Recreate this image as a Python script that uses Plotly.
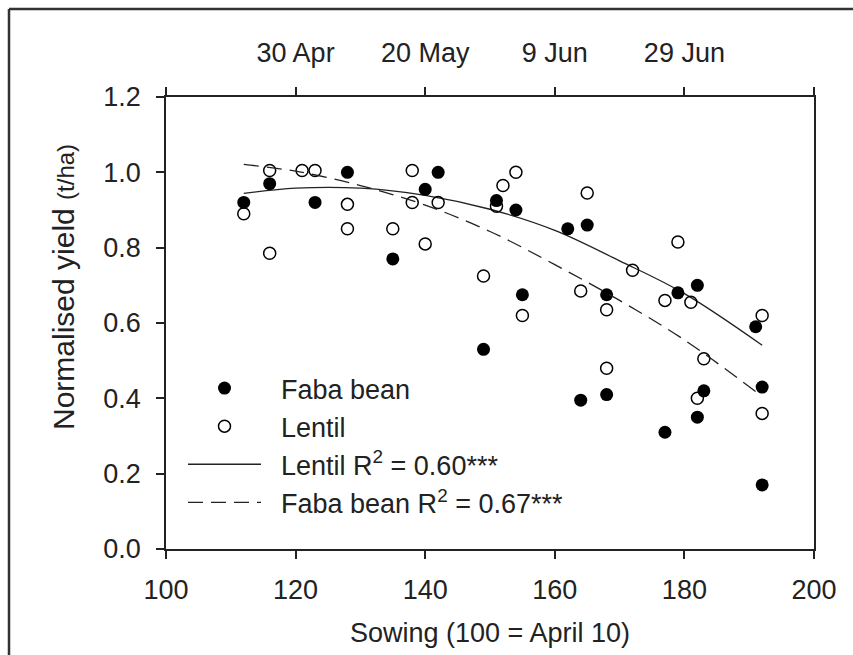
import plotly.graph_objects as go

# ---- data ----
faba_x = [112, 116, 123, 128, 135, 140, 142, 149, 151, 154, 155, 162, 164, 165,
          168, 168, 177, 179, 182, 182, 183, 191, 192, 192]
faba_y = [0.92, 0.97, 0.92, 1.00, 0.77, 0.955, 1.00, 0.53, 0.925, 0.90, 0.675, 0.85, 0.395, 0.86,
          0.675, 0.41, 0.31, 0.68, 0.70, 0.35, 0.42, 0.59, 0.43, 0.17]

lentil_x = [112, 116, 116, 121, 123, 128, 128, 135, 138, 138, 140, 142, 149, 151, 152,
            154, 155, 164, 165, 168, 168, 172, 177, 179, 181, 182, 183, 192, 192]
lentil_y = [0.89, 1.005, 0.785, 1.005, 1.005, 0.915, 0.85, 0.85, 1.005, 0.92, 0.81, 0.92, 0.725, 0.91, 0.965,
            1.00, 0.62, 0.685, 0.945, 0.635, 0.48, 0.74, 0.66, 0.815, 0.655, 0.40, 0.505, 0.62, 0.36]

# fitted curves
lentil_fit_x = [112, 120, 130, 140, 150, 160, 170, 180, 192]
lentil_fit_y = [0.944, 0.958, 0.958, 0.939, 0.902, 0.846, 0.765, 0.678, 0.541]
faba_fit_x = [112, 120, 130, 140, 150, 160, 170, 180, 191]
faba_fit_y = [1.021, 1.003, 0.965, 0.913, 0.843, 0.755, 0.660, 0.555, 0.418]

bottom_ticks = [100, 120, 140, 160, 180, 200]
top_ticks = [100, 120, 140, 160, 180, 200]
top_labels = ["", "30 Apr", "20 May", "9 Jun", "29 Jun", ""]
y_ticks = [0.0, 0.2, 0.4, 0.6, 0.8, 1.0, 1.2]

FONT = "Liberation Sans, Arial, sans-serif"
INK = "#222222"
PAD = "&nbsp;&nbsp;"

fig = go.Figure()

fig.add_trace(go.Scatter(
    x=lentil_fit_x, y=lentil_fit_y, mode="lines", line_shape="spline",
    line=dict(color=INK, width=1.3), name=PAD + "Lentil R<sup>2</sup> = 0.60***", legendrank=3))
# the faba-bean fit is drawn against the top (date) axis, which shares the same 100-200 scale
fig.add_trace(go.Scatter(
    x=faba_fit_x, y=faba_fit_y, mode="lines", line_shape="spline", xaxis="x2",
    line=dict(color=INK, width=1.3, dash="15px,8px"),
    name=PAD + "Faba bean R<sup>2</sup> = 0.67***", legendrank=4))
fig.add_trace(go.Scatter(
    x=faba_x, y=faba_y, mode="markers", name=PAD + "Faba bean", legendrank=1,
    marker=dict(symbol="circle", size=13, color="#000000", line=dict(width=0))))
fig.add_trace(go.Scatter(
    x=lentil_x, y=lentil_y, mode="markers", name=PAD + "Lentil", legendrank=2,
    marker=dict(symbol="circle-open", size=12, color="#000000", line=dict(width=1.5))))

# plot area: x 166..814 px, y 97..549 px
W, H = 853, 655
L, R, T, B = 166, 39, 97, 106
pw, ph = W - L - R, H - T - B

def px(xp):
    return (xp - L) / pw

def py(yp):
    return (H - B - yp) / ph

fig.update_layout(
    width=W, height=H,
    margin=dict(l=L, r=R, t=T, b=B, pad=0),
    paper_bgcolor="white", plot_bgcolor="white",
    font=dict(family=FONT, size=27, color=INK),
    showlegend=True,
    legend=dict(
        x=px(183), y=py(364), xanchor="left", yanchor="top",
        bgcolor="rgba(0,0,0,0)", borderwidth=0,
        font=dict(size=27, color=INK), itemwidth=73,
        tracegroupgap=0,
    ),
    xaxis=dict(
        range=[100, 200], tickmode="array", tickvals=bottom_ticks,
        ticks="outside", ticklen=8, tickwidth=1.5, tickcolor=INK,
        showline=True, linewidth=1.5, linecolor=INK, mirror=False,
        showgrid=False, zeroline=False, ticklabelstandoff=8,
        tickfont=dict(size=27),
    ),
    xaxis2=dict(
        range=[100, 200], overlaying="x", side="top", anchor="y",
        tickmode="array", tickvals=top_ticks, ticktext=top_labels,
        ticks="outside", ticklen=8, tickwidth=1.5, tickcolor=INK,
        showline=True, linewidth=1.5, linecolor=INK,
        showgrid=False, zeroline=False, ticklabelstandoff=14,
        tickfont=dict(size=27),
    ),
    yaxis=dict(
        range=[0, 1.2], tickmode="array", tickvals=y_ticks, tickformat=".1f",
        ticks="outside", ticklen=8, tickwidth=1.5, tickcolor=INK,
        showline=True, linewidth=1.5, linecolor=INK, mirror=True,
        showgrid=False, zeroline=False, ticklabelstandoff=10,
        tickfont=dict(size=27),
    ),
    annotations=[
        dict(text="Sowing (100 = April 10)", xref="paper", yref="paper",
             x=px(490), y=py(633), xanchor="center", yanchor="middle",
             showarrow=False, font=dict(size=27, color=INK)),
        dict(text="Normalised yield <span style='font-size:24px'>(t/ha)</span>",
             xref="paper", yref="paper", x=px(63), y=py(287), textangle=-90,
             xanchor="center", yanchor="middle", showarrow=False,
             font=dict(size=30, color=INK)),
    ],
    shapes=[
        dict(type="line", xref="paper", yref="paper",
             x0=px(9), x1=px(853), y0=py(9), y1=py(9),
             line=dict(color="#333333", width=2.5)),
        dict(type="line", xref="paper", yref="paper",
             x0=px(9), x1=px(9), y0=py(9), y1=py(655),
             line=dict(color="#333333", width=2.5)),
    ],
)

fig.write_html("out.html")
